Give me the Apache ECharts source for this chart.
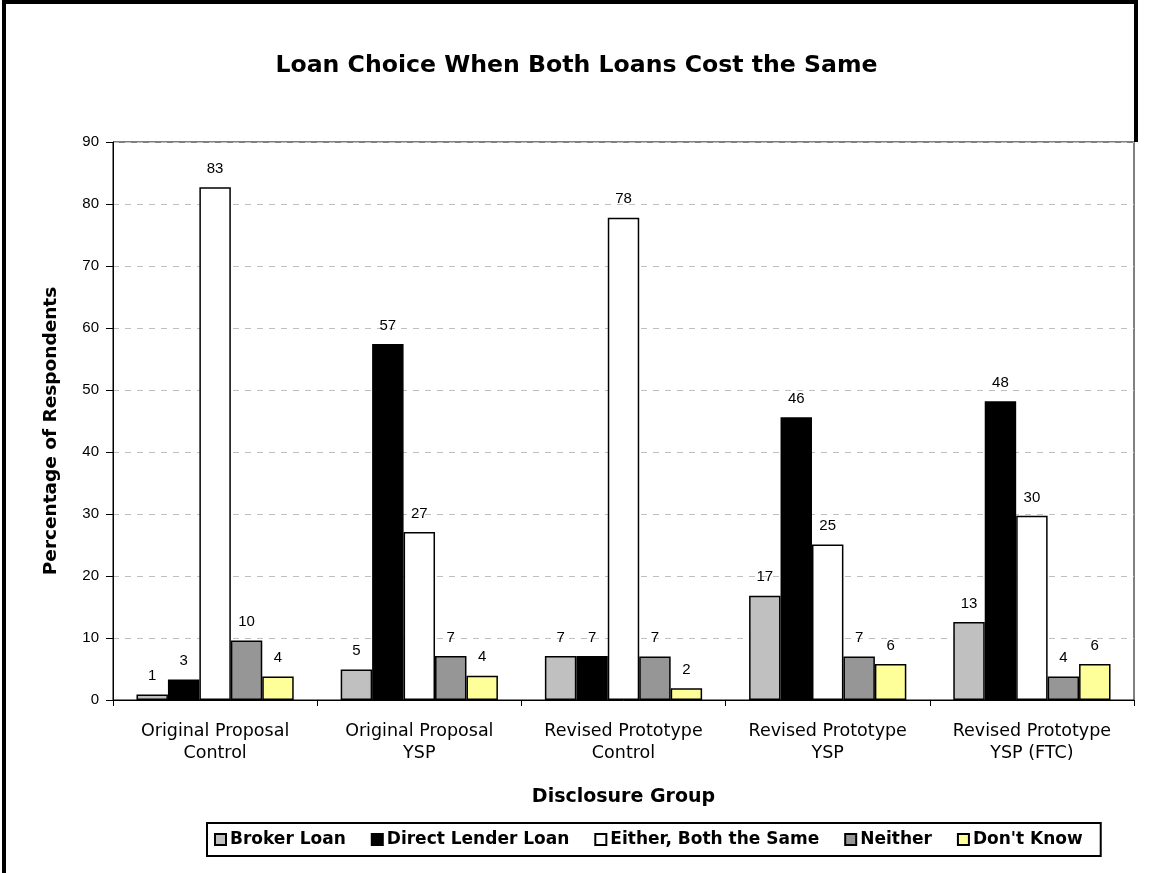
<!DOCTYPE html>
<html>
<head>
<meta charset="utf-8">
<script src="https://cdn.jsdelivr.net/npm/echarts@6/dist/echarts.min.js"></script>
<style>
html,body{margin:0;padding:0;background:#fff;}
#chart{width:1153px;height:873px;}
</style>
</head>
<body>
<div id="chart"></div>
<script>
const categories = [
  "Original Proposal\nControl",
  "Original Proposal\nYSP",
  "Revised Prototype\nControl",
  "Revised Prototype\nYSP",
  "Revised Prototype\nYSP (FTC)"
];
const seriesNames = ["Broker Loan", "Direct Lender Loan", "Either, Both the Same", "Neither", "Don't Know"];
const brokerLoan = [0.9, 4.9, 7.1, 16.8, 12.6];
const directLender = [3.3, 57.4, 7.1, 45.6, 48.2];
const eitherSame = [82.7, 27.1, 77.8, 25.1, 29.7];
const neither = [9.6, 7.1, 7.0, 7.0, 3.8];
const dontKnow = [3.8, 3.9, 1.9, 5.8, 5.8];
const colors = ["#C0C0C0", "#000000", "#FFFFFF", "#969696", "#FFFF99"];

const allValues = [brokerLoan, directLender, eitherSame, neither, dontKnow];
const font = "'Liberation Sans', Arial, sans-serif";
const wideFont = "'DejaVu Sans', Verdana, sans-serif";

const chart = echarts.init(document.getElementById('chart'), null, {renderer: 'canvas'});
chart.setOption({
  animation: false,
  backgroundColor: '#fff',
  title: {
    text: 'Loan Choice When Both Loans Cost the Same',
    left: 'center',
    top: 49,
    textStyle: {fontFamily: wideFont, fontSize: 23.6, fontWeight: 'bold', color: '#000'}
  },
  grid: {left: 113, right: 19, top: 142, bottom: 173, show: true, borderColor: '#000', borderWidth: 1, backgroundColor: '#fff'},
  legend: {
    data: seriesNames,
    left: 207,
    top: 823,
    padding: [8, 18, 8, 7],
    borderColor: '#000',
    borderWidth: 2,
    itemWidth: 11,
    itemHeight: 11,
    itemGap: 25,
    icon: 'rect',
    textStyle: {fontFamily: wideFont, fontSize: 17, fontWeight: 'bold', color: '#000', padding: [0, 0, 0, -1]}
  },
  xAxis: {
    type: 'category',
    data: categories,
    name: 'Disclosure Group',
    nameLocation: 'middle',
    nameGap: 88,
    nameTextStyle: {fontFamily: wideFont, fontSize: 19, fontWeight: 'bold', color: '#000'},
    axisLine: {lineStyle: {color: '#000', width: 1}},
    axisTick: {show: true, length: 6, lineStyle: {color: '#000'}},
    axisLabel: {fontFamily: wideFont, fontSize: 17.5, color: '#000', margin: 20, lineHeight: 22, interval: 0}
  },
  yAxis: {
    type: 'value',
    min: 0,
    max: 90,
    interval: 10,
    name: 'Percentage of Respondents',
    nameLocation: 'middle',
    nameGap: 52,
    nameTextStyle: {fontFamily: wideFont, fontSize: 18.5, fontWeight: 'bold', color: '#000', padding: [0, 20, 0, 0]},
    axisLine: {show: true, lineStyle: {color: '#000', width: 1}},
    axisTick: {show: true, length: 7, lineStyle: {color: '#000'}},
    axisLabel: {fontFamily: font, fontSize: 15, color: '#000', margin: 14},
    splitLine: {show: true, lineStyle: {color: '#BFBFBF', type: [6, 6], width: 1}}
  },
  series: seriesNames.map((name, i) => ({
    name: name,
    type: 'bar',
    data: allValues[i],
    barGap: '0%',
    barCategoryGap: '23%',
    itemStyle: {color: colors[i], borderColor: '#000', borderWidth: 1.5},
    label: {
      show: true,
      position: 'top',
      distance: 11,
      fontFamily: font,
      fontSize: 15,
      color: '#000',
      formatter: p => Math.round(p.value)
    }
  })),
  graphic: [
    {type: 'rect', shape: {x: 2, y: 0, width: 4, height: 873}, style: {fill: '#000'}},
    {type: 'rect', shape: {x: 2, y: 0, width: 1136, height: 4}, style: {fill: '#000'}},
    {type: 'rect', shape: {x: 1134, y: 0, width: 4, height: 142}, style: {fill: '#000'}}
  ]
});
</script>
</body>
</html>
